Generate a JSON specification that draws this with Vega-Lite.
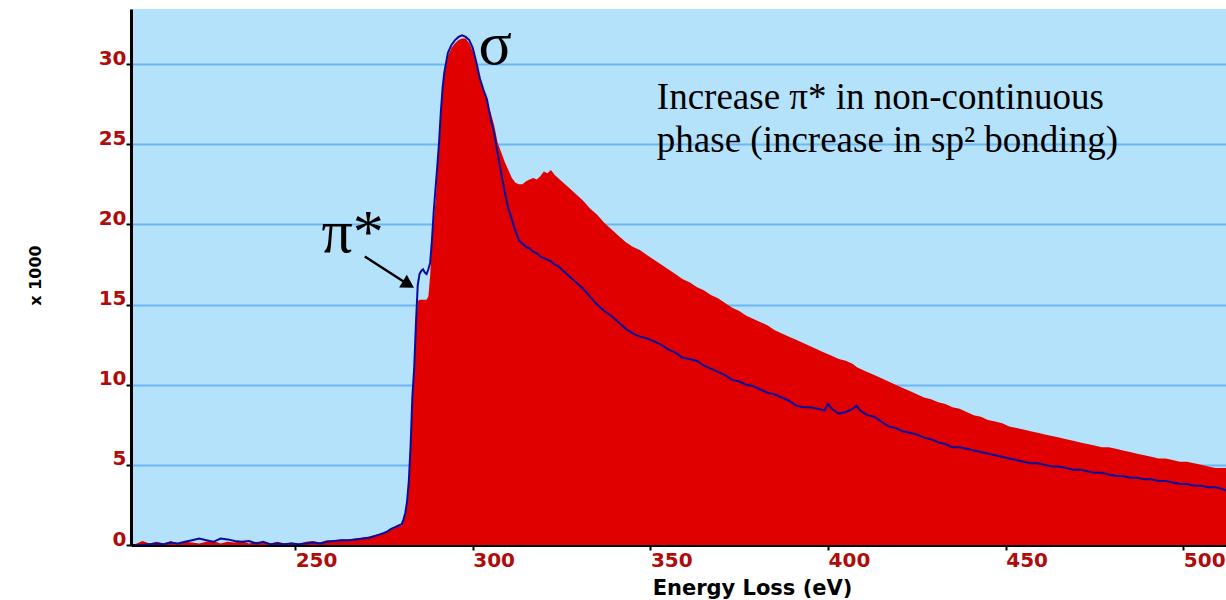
{
  "$schema": "https://vega.github.io/schema/vega-lite/v6.json",
  "autosize": "none",
  "width": 1095,
  "height": 536,
  "padding": {"left": 131, "top": 9, "right": 0, "bottom": 55},
  "background": "white",
  "config": {
    "view": {"fill": "#b4e2fb", "stroke": null}
  },
  "data": {"values": [
    {"E":205,"a":0.05,"b":0.0},{"E":207,"a":0.25,"b":0.0},{"E":209,"a":0.1,"b":0.05},{"E":211,"a":0.2,"b":0.1},
    {"E":213,"a":0.1,"b":0.05},{"E":215,"a":0.25,"b":0.15},{"E":217,"a":0.05,"b":0.1},{"E":219,"a":0.2,"b":0.2},
    {"E":221,"a":0.15,"b":0.3},{"E":223,"a":0.1,"b":0.4},{"E":225,"a":0.2,"b":0.3},{"E":227,"a":0.25,"b":0.2},
    {"E":229,"a":0.1,"b":0.4},{"E":231,"a":0.2,"b":0.35},{"E":233,"a":0.15,"b":0.25},{"E":235,"a":0.25,"b":0.2},
    {"E":237,"a":0.1,"b":0.25},{"E":239,"a":0.2,"b":0.1},{"E":241,"a":0.15,"b":0.2},{"E":243,"a":0.1,"b":0.05},
    {"E":245,"a":0.2,"b":0.1},{"E":247,"a":0.1,"b":0.05},{"E":249,"a":0.15,"b":0.1},{"E":251,"a":0.05,"b":0.05},
    {"E":253,"a":0.2,"b":0.1},{"E":255,"a":0.25,"b":0.15},{"E":257,"a":0.15,"b":0.1},{"E":259,"a":0.3,"b":0.2},
    {"E":261,"a":0.3,"b":0.25},{"E":263,"a":0.35,"b":0.3},{"E":265,"a":0.35,"b":0.3},{"E":267,"a":0.4,"b":0.35},
    {"E":269,"a":0.45,"b":0.4},{"E":271,"a":0.55,"b":0.45},{"E":273,"a":0.65,"b":0.6},{"E":275,"a":0.75,"b":0.75},
    {"E":276,"a":0.85,"b":0.85},{"E":277,"a":0.95,"b":1.0},{"E":278,"a":1.05,"b":1.1},{"E":279,"a":1.15,"b":1.2},
    {"E":280,"a":1.2,"b":1.3},{"E":280.5,"a":1.5,"b":1.6},{"E":281,"a":1.9,"b":2.0},{"E":281.5,"a":2.6,"b":2.7},
    {"E":282,"a":3.8,"b":4.0},{"E":282.5,"a":6.0,"b":6.2},{"E":283,"a":9.0,"b":9.3},{"E":283.5,"a":10.8,"b":11.0},
    {"E":284,"a":13.5,"b":13.8},{"E":284.5,"a":15.2,"b":16.2},{"E":285,"a":15.3,"b":16.9},{"E":285.5,"a":15.3,"b":17.1},
    {"E":286,"a":15.3,"b":17.2},{"E":286.5,"a":15.3,"b":17.0},{"E":287,"a":15.3,"b":16.9},{"E":287.5,"a":15.5,"b":17.2},
    {"E":288,"a":16.8,"b":17.6},{"E":288.5,"a":18.8,"b":19.0},{"E":289,"a":20.2,"b":20.8},{"E":289.5,"a":21.4,"b":22.2},
    {"E":290,"a":23.2,"b":23.6},{"E":290.5,"a":24.8,"b":25.1},{"E":291,"a":26.7,"b":27.0},{"E":291.5,"a":28.3,"b":28.5},
    {"E":292,"a":29.3,"b":29.5},{"E":293,"a":30.5,"b":30.7},{"E":294,"a":31.0,"b":31.2},{"E":295,"a":31.3,"b":31.5},
    {"E":296,"a":31.5,"b":31.7},{"E":297,"a":31.6,"b":31.8},{"E":298,"a":31.6,"b":31.7},{"E":299,"a":31.3,"b":31.5},
    {"E":300,"a":30.8,"b":31.0},{"E":301,"a":30.0,"b":30.1},{"E":302,"a":29.1,"b":29.1},{"E":303,"a":28.4,"b":28.4},
    {"E":304,"a":27.7,"b":27.8},{"E":305,"a":27.0,"b":26.6},{"E":306,"a":26.2,"b":25.7},{"E":307,"a":25.1,"b":24.4},
    {"E":308,"a":24.5,"b":23.2},{"E":309,"a":23.9,"b":22.0},{"E":310,"a":23.4,"b":21.0},{"E":311,"a":22.9,"b":20.3},
    {"E":312,"a":22.6,"b":19.6},{"E":313,"a":22.5,"b":19.0},{"E":314,"a":22.5,"b":18.8},{"E":315,"a":22.7,"b":18.6},
    {"E":316,"a":22.8,"b":18.5},{"E":317,"a":22.9,"b":18.3},{"E":318,"a":22.8,"b":18.2},{"E":319,"a":23.0,"b":18.0},
    {"E":320,"a":23.3,"b":17.9},{"E":321,"a":23.2,"b":17.8},{"E":322,"a":23.4,"b":17.7},{"E":323,"a":23.1,"b":17.5},
    {"E":324,"a":22.9,"b":17.4},{"E":325,"a":22.7,"b":17.2},{"E":327,"a":22.3,"b":16.8},{"E":329,"a":21.9,"b":16.4},
    {"E":331,"a":21.5,"b":16.0},{"E":333,"a":21.0,"b":15.5},{"E":335,"a":20.6,"b":15.0},{"E":337,"a":20.1,"b":14.6},
    {"E":339,"a":19.7,"b":14.3},{"E":341,"a":19.3,"b":13.9},{"E":343,"a":18.9,"b":13.5},{"E":345,"a":18.6,"b":13.2},
    {"E":347,"a":18.4,"b":13.0},{"E":349,"a":18.1,"b":12.9},{"E":351,"a":17.8,"b":12.7},{"E":353,"a":17.5,"b":12.5},
    {"E":355,"a":17.2,"b":12.2},{"E":357,"a":16.9,"b":12.0},{"E":359,"a":16.6,"b":11.7},{"E":361,"a":16.4,"b":11.6},
    {"E":363,"a":16.1,"b":11.5},{"E":365,"a":15.9,"b":11.2},{"E":367,"a":15.6,"b":11.0},{"E":369,"a":15.4,"b":10.8},
    {"E":371,"a":15.1,"b":10.6},{"E":373,"a":14.8,"b":10.3},{"E":375,"a":14.6,"b":10.2},{"E":377,"a":14.3,"b":10.0},
    {"E":379,"a":14.1,"b":9.9},{"E":381,"a":13.9,"b":9.7},{"E":383,"a":13.7,"b":9.5},{"E":385,"a":13.4,"b":9.4},
    {"E":387,"a":13.2,"b":9.2},{"E":389,"a":13.0,"b":9.0},{"E":391,"a":12.8,"b":8.7},{"E":393,"a":12.6,"b":8.6},
    {"E":395,"a":12.4,"b":8.6},{"E":397,"a":12.2,"b":8.5},{"E":399,"a":12.0,"b":8.4},{"E":400,"a":11.9,"b":8.8},
    {"E":401,"a":11.8,"b":8.5},{"E":403,"a":11.6,"b":8.2},{"E":405,"a":11.5,"b":8.3},{"E":407,"a":11.3,"b":8.5},
    {"E":408,"a":11.1,"b":8.7},{"E":409,"a":11.0,"b":8.4},{"E":411,"a":10.8,"b":8.1},{"E":413,"a":10.6,"b":8.0},
    {"E":415,"a":10.4,"b":7.7},{"E":417,"a":10.2,"b":7.4},{"E":419,"a":10.0,"b":7.3},{"E":421,"a":9.8,"b":7.1},
    {"E":423,"a":9.6,"b":7.0},{"E":425,"a":9.4,"b":6.9},{"E":427,"a":9.2,"b":6.7},{"E":429,"a":9.1,"b":6.6},
    {"E":431,"a":8.9,"b":6.4},{"E":433,"a":8.8,"b":6.3},{"E":435,"a":8.6,"b":6.1},{"E":437,"a":8.5,"b":6.1},
    {"E":439,"a":8.3,"b":6.0},{"E":441,"a":8.1,"b":5.9},{"E":443,"a":8.0,"b":5.8},{"E":445,"a":7.8,"b":5.7},
    {"E":447,"a":7.7,"b":5.6},{"E":449,"a":7.6,"b":5.5},{"E":451,"a":7.4,"b":5.4},{"E":453,"a":7.3,"b":5.3},
    {"E":455,"a":7.2,"b":5.2},{"E":457,"a":7.1,"b":5.1},{"E":459,"a":7.0,"b":5.1},{"E":461,"a":6.9,"b":5.0},
    {"E":463,"a":6.8,"b":4.9},{"E":465,"a":6.7,"b":4.9},{"E":467,"a":6.6,"b":4.8},{"E":469,"a":6.5,"b":4.7},
    {"E":471,"a":6.4,"b":4.7},{"E":473,"a":6.3,"b":4.6},{"E":475,"a":6.2,"b":4.5},{"E":477,"a":6.1,"b":4.5},
    {"E":479,"a":6.1,"b":4.4},{"E":481,"a":6.0,"b":4.3},{"E":483,"a":5.9,"b":4.3},{"E":485,"a":5.8,"b":4.2},
    {"E":487,"a":5.7,"b":4.2},{"E":489,"a":5.6,"b":4.1},{"E":491,"a":5.5,"b":4.1},{"E":493,"a":5.4,"b":4.0},
    {"E":495,"a":5.4,"b":4.0},{"E":497,"a":5.3,"b":3.9},{"E":499,"a":5.2,"b":3.8},{"E":501,"a":5.2,"b":3.8},
    {"E":503,"a":5.1,"b":3.7},{"E":505,"a":5.0,"b":3.7},{"E":507,"a":4.9,"b":3.6},{"E":509,"a":4.8,"b":3.6},
    {"E":511,"a":4.8,"b":3.5},{"E":512,"a":4.8,"b":3.4}
  ]},
  "layer": [
    {"mark": {"type": "area", "color": "#e00000", "interpolate": "linear", "clip": true},
     "encoding": {
      "x": {"field": "E", "type": "quantitative",
        "scale": {"domain": [203.8, 512], "nice": false, "zero": false},
        "axis": {"values": [250, 300, 350, 400, 450, 500], "grid": false,
          "domainColor": "black", "domainWidth": 3, "tickColor": "black", "tickWidth": 2, "tickSize": 5,
          "labelFont": "DejaVu Sans", "labelFontWeight": "bold", "labelFontSize": 20, "labelColor": "#b00c0c",
          "labelAlign": "left", "labelPadding": 0, "labelBaseline": "top", "labelFlush": false, "labelOverlap": false,
          "title": "Energy Loss (eV)", "titleFont": "DejaVu Sans", "titleFontWeight": "bold", "titleColor": "black",
          "titleFontSize": 21, "titleX": 621, "titleY": 49, "titleAlign": "center", "titleBaseline": "alphabetic"}},
      "y": {"field": "a", "type": "quantitative",
        "scale": {"domain": [0, 33.44], "nice": false},
        "axis": {"values": [0, 5, 10, 15, 20, 25, 30], "grid": true, "gridColor": "#6db5f3", "gridWidth": 2,
          "domainColor": "black", "domainWidth": 3, "tickColor": "black", "tickWidth": 2, "tickSize": 5,
          "labelFont": "DejaVu Sans", "labelFontWeight": "bold", "labelFontSize": 20, "labelColor": "#b00c0c",
          "labelBaseline": "alphabetic", "labelPadding": 0, "labelFlush": false, "labelOverlap": false,
          "title": "x 1000", "titleFont": "DejaVu Sans", "titleFontWeight": "bold", "titleColor": "black",
          "titleFontSize": 16, "titleX": -96, "titleY": 266, "titleAngle": 270,
          "titleAlign": "center", "titleBaseline": "middle"}}}},
    {"mark": {"type": "line", "color": "#0a0a9e", "strokeWidth": 2, "interpolate": "linear", "clip": true},
     "encoding": {"x": {"field": "E", "type": "quantitative"}, "y": {"field": "b", "type": "quantitative"}}},
    {"data": {"values": [{"t": "σ", "tx": 306.3, "ty": 30.0}]},
     "mark": {"type": "text", "font": "Liberation Serif", "fontSize": 62, "align": "center", "baseline": "alphabetic", "color": "black"},
     "encoding": {"x": {"field": "tx", "type": "quantitative"}, "y": {"field": "ty", "type": "quantitative"}, "text": {"field": "t"}}},
    {"data": {"values": [{"t": "π*", "tx": 257.4, "ty": 18.3}]},
     "mark": {"type": "text", "font": "Liberation Serif", "fontSize": 62, "align": "left", "baseline": "alphabetic", "color": "black"},
     "encoding": {"x": {"field": "tx", "type": "quantitative"}, "y": {"field": "ty", "type": "quantitative"}, "text": {"field": "t"}}},
    {"data": {"values": [{"t": "Increase π* in non-continuous", "tx": 351.8, "ty": 27.2}, {"t": "phase (increase in sp² bonding)", "tx": 351.8, "ty": 24.5}]},
     "mark": {"type": "text", "font": "Liberation Serif", "fontSize": 37, "align": "left", "baseline": "alphabetic", "color": "black"},
     "encoding": {"x": {"field": "tx", "type": "quantitative"}, "y": {"field": "ty", "type": "quantitative"}, "text": {"field": "t"}}},
    {"data": {"values": [{"p": 0, "ax": 269.6, "ay": 18.0}, {"p": 1, "ax": 281.5, "ay": 16.3}]},
     "mark": {"type": "line", "color": "black", "strokeWidth": 2.5},
     "encoding": {"x": {"field": "ax", "type": "quantitative"}, "y": {"field": "ay", "type": "quantitative"}, "order": {"field": "p"}}},
    {"data": {"values": [{"ax": 281.9, "ay": 16.25}]},
     "mark": {"type": "point", "shape": "triangle-right", "filled": true, "color": "black", "size": 220, "angle": 31, "opacity": 1},
     "encoding": {"x": {"field": "ax", "type": "quantitative"}, "y": {"field": "ay", "type": "quantitative"}}}
  ]
}
